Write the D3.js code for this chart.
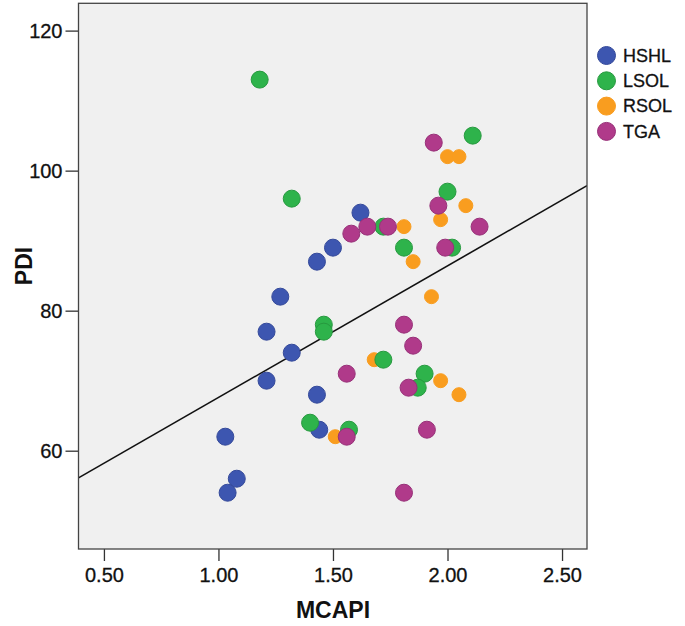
<!DOCTYPE html>
<html>
<head>
<meta charset="utf-8">
<script src="https://cdn.jsdelivr.net/npm/d3@7"></script>
<style>
  html, body { margin: 0; padding: 0; background: #ffffff; }
  svg { display: block; }
</style>
</head>
<body>
<svg id="chart" width="685" height="626"></svg>
<script>
// ---- data ----
const groups = ["HSHL", "LSOL", "RSOL", "TGA"];
const hshlX = [1.62, 1.50, 1.43, 1.27, 1.21, 1.32, 1.21, 1.43, 1.44, 1.03, 1.08, 1.04];
const hshlY = [94, 89, 87, 82, 77, 74, 70, 68, 63, 62, 56, 54];
const lsolX = [1.18, 1.32, 2.11, 2.00, 1.72, 1.81, 2.02, 1.46, 1.46, 1.72, 1.90, 1.87, 1.40, 1.57];
const lsolY = [113, 96, 105, 97, 92, 89, 89, 78, 77, 73, 71, 69, 64, 63];
const rsolX = [2.00, 2.05, 2.08, 1.97, 1.81, 1.85, 1.93, 1.68, 1.97, 2.05, 1.51];
const rsolY = [102, 102, 95, 93, 92, 87, 82, 73, 70, 68, 62];
const tgaX = [1.94, 1.96, 2.14, 1.74, 1.65, 1.58, 1.99, 1.81, 1.85, 1.56, 1.83, 1.91, 1.56, 1.81];
const tgaY = [104, 95, 92, 92, 92, 91, 89, 78, 75, 71, 69, 63, 62, 54];
const xTicks = [0.5, 1.0, 1.5, 2.0, 2.5];
const yTicks = [60, 80, 100, 120];
const fitIntercept = 48.8;
const fitSlope = 18.8;

// ---- styling ----
const colors = { HSHL: "#3d56b0", LSOL: "#2eb34b", RSOL: "#f99d1f", TGA: "#b03a8a" };
const strokes = { HSHL: "#34499a", LSOL: "#27993f", RSOL: "#f99d1f", TGA: "#973078" };
const radius = { HSHL: 8.5, LSOL: 8.5, RSOL: 7, TGA: 8.5 };

const series = {
  HSHL: hshlX.map((x, i) => ({ x, y: hshlY[i], g: "HSHL" })),
  LSOL: lsolX.map((x, i) => ({ x, y: lsolY[i], g: "LSOL" })),
  RSOL: rsolX.map((x, i) => ({ x, y: rsolY[i], g: "RSOL" })),
  TGA: tgaX.map((x, i) => ({ x, y: tgaY[i], g: "TGA" }))
};
const drawOrder = ["HSHL", "RSOL", "LSOL", "TGA"];

const svg = d3.select("#chart");
const pL = 78.5, pR = 587, pT = 3.3, pB = 549;
const x = d3.scaleLinear().domain([0.389, 2.609]).range([pL, pR]);
const y = d3.scaleLinear().domain([45.96, 123.9]).range([pB, pT]);

svg.append("defs").append("clipPath").attr("id", "clip")
  .append("rect").attr("x", pL).attr("y", pT).attr("width", pR - pL).attr("height", pB - pT);

svg.append("rect")
  .attr("x", pL).attr("y", pT).attr("width", pR - pL).attr("height", pB - pT)
  .attr("fill", "#f0f0f0");

// axes
const font = "'Liberation Sans', Arial, sans-serif";
const yAxis = svg.append("g").attr("transform", `translate(${pL},0)`)
  .call(d3.axisLeft(y).tickValues(yTicks).tickSize(13).tickPadding(3).tickFormat(d3.format("d")));
const xAxis = svg.append("g").attr("transform", `translate(0,${pB})`)
  .call(d3.axisBottom(x).tickValues(xTicks).tickSize(12).tickPadding(7).tickFormat(d3.format(".2f")));
[yAxis, xAxis].forEach(a => {
  a.select(".domain").remove();
  a.selectAll(".tick line").attr("stroke", "#333").attr("stroke-width", 1.3);
  a.selectAll(".tick text").attr("fill", "#111").attr("stroke", "#111").attr("stroke-width", 0.3)
    .style("font-family", font).style("font-size", "20px");
});

// fit line
const xd = x.domain();
svg.append("line")
  .attr("clip-path", "url(#clip)")
  .attr("x1", x(xd[0])).attr("y1", y(fitIntercept + fitSlope * xd[0]))
  .attr("x2", x(xd[1])).attr("y2", y(fitIntercept + fitSlope * xd[1]))
  .attr("stroke", "#111").attr("stroke-width", 1.6);

// points
drawOrder.forEach(g => {
  svg.append("g").selectAll("circle").data(series[g]).join("circle")
    .attr("cx", d => x(d.x)).attr("cy", d => y(d.y)).attr("r", radius[g])
    .attr("fill", colors[g]).attr("stroke", strokes[g]).attr("stroke-width", 1);
});

// frame
svg.append("rect")
  .attr("x", pL).attr("y", pT).attr("width", pR - pL).attr("height", pB - pT)
  .attr("fill", "none").attr("stroke", "#444").attr("stroke-width", 1.3);

// axis titles
svg.append("text").attr("x", 333).attr("y", 618).attr("text-anchor", "middle")
  .style("font-family", font).style("font-size", "23px").style("font-weight", "bold").attr("fill", "#111")
  .text("MCAPI");
svg.append("text").attr("transform", "translate(32,266) rotate(-90)").attr("text-anchor", "middle")
  .style("font-family", font).style("font-size", "23px").style("font-weight", "bold").attr("fill", "#111")
  .text("PDI");

// legend
const leg = svg.append("g");
groups.forEach((g, i) => {
  const cy = 55.5 + i * 25.3;
  leg.append("circle").attr("cx", 606.5).attr("cy", cy).attr("r", 9)
    .attr("fill", colors[g]).attr("stroke", strokes[g]).attr("stroke-width", 1);
  leg.append("text").attr("x", 623).attr("y", cy).attr("dy", "0.35em")
    .attr("stroke", "#111").attr("stroke-width", 0.3)
    .style("font-family", font).style("font-size", "18px").attr("fill", "#111")
    .text(g);
});
</script>
</body>
</html>
